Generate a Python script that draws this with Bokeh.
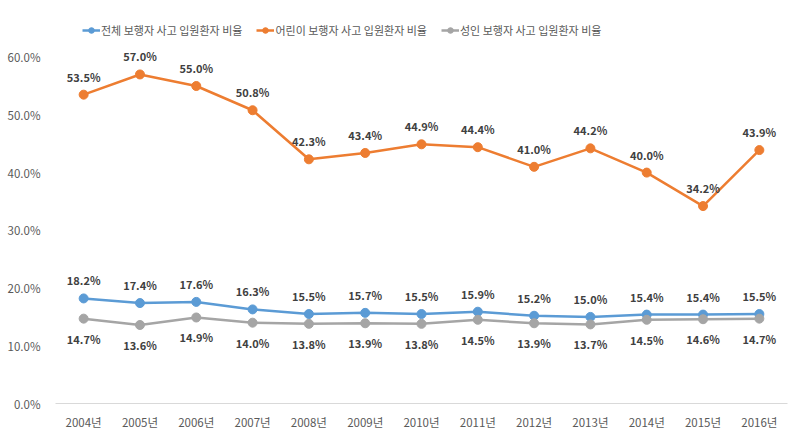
from bokeh.plotting import figure
from bokeh.models import ColumnDataSource, Legend, LegendItem, FactorRange, FixedTicker
from bokeh.core.properties import value
from bokeh.embed import file_html
from bokeh.resources import INLINE

years = ["2004년", "2005년", "2006년", "2007년", "2008년", "2009년", "2010년",
         "2011년", "2012년", "2013년", "2014년", "2015년", "2016년"]
total = [18.2, 17.4, 17.6, 16.3, 15.5, 15.7, 15.5, 15.9, 15.2, 15.0, 15.4, 15.4, 15.5]
child = [53.5, 57.0, 55.0, 50.8, 42.3, 43.4, 44.9, 44.4, 41.0, 44.2, 40.0, 34.2, 43.9]
adult = [14.7, 13.6, 14.9, 14.0, 13.8, 13.9, 13.8, 14.5, 13.9, 13.7, 14.5, 14.6, 14.7]
yticks = [0, 10, 20, 30, 40, 50, 60]
names = ["전체 보행자 사고 입원환자 비율", "어린이 보행자 사고 입원환자 비율", "성인 보행자 사고 입원환자 비율"]
colors = ["#5B9BD5", "#ED7D31", "#A5A5A5"]

FONT = "Noto Sans CJK KR"

p = figure(width=800, height=441, x_range=FactorRange(factors=years, range_padding=0),
           y_range=(0, 66), output_backend="svg", toolbar_location=None,
           min_border_left=55, min_border_right=13, min_border_top=22, min_border_bottom=38)
p.outline_line_color = None
p.grid.grid_line_color = None
p.yaxis.axis_line_color = None
p.yaxis.major_tick_line_color = None
p.yaxis.minor_tick_line_color = None
p.xaxis.major_tick_line_color = None
p.xaxis.axis_line_color = "#D9D9D9"
p.xaxis.axis_line_width = 1
p.yaxis.ticker = FixedTicker(ticks=yticks)
p.yaxis.major_label_overrides = {t: f"{t:.1f}%" for t in yticks}
for ax in (p.xaxis, p.yaxis):
    ax.major_label_text_font = FONT
    ax.major_label_text_font_size = "11.5px"
    ax.major_label_text_color = "#595959"
p.yaxis.major_label_standoff = 9
p.xaxis.major_label_standoff = 4

items = []
for vals, name, col, above in zip([total, child, adult], names, colors, [True, True, False]):
    src = ColumnDataSource(dict(x=years, y=vals, lab=[f"{v:.1f}%" for v in vals]))
    r1 = p.line("x", "y", source=src, line_color=col, line_width=2.5)
    r2 = p.scatter("x", "y", source=src, size=9, fill_color=col, line_color=col)
    p.text("x", "y", text="lab", source=src, text_font=value(FONT), text_font_size="11px",
           text_font_style="bold", text_color="#404040", text_align="center",
           text_baseline="bottom" if above else "top", y_offset=-10 if above else 12)
    items.append(LegendItem(label=name, renderers=[r1, r2]))

legend = Legend(items=items, orientation="horizontal", location=(27, 365),
                label_text_font=FONT, label_text_font_size="11px", label_text_color="#595959",
                border_line_color=None, background_fill_alpha=0, spacing=14,
                glyph_width=18, glyph_height=14, label_standoff=1, padding=0, margin=0,
                label_height=14)
p.add_layout(legend, "center")

open("out.html", "w").write(file_html(p, INLINE))
